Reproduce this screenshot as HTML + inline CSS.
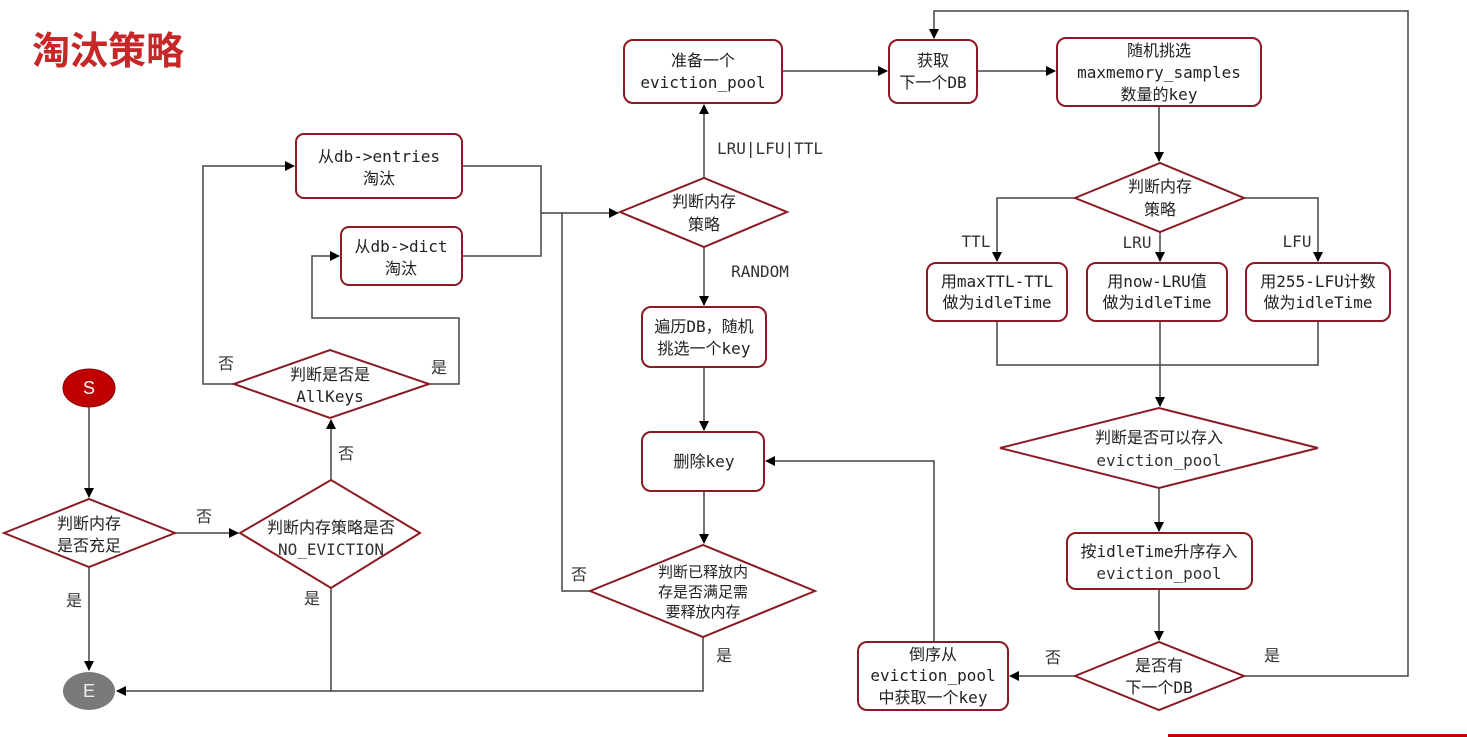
<!DOCTYPE html>
<html><head><meta charset="utf-8"><style>
html,body{margin:0;padding:0;background:#fff;}
svg{display:block;}
text{font-family:"DejaVu Sans Mono","Noto Sans CJK SC",monospace;font-size:16px;fill:#222;text-anchor:middle;}
.l{fill:#333;}
</style></head><body>
<svg width="1467" height="737" viewBox="0 0 1467 737" xmlns="http://www.w3.org/2000/svg">
<defs><marker id="a" markerWidth="10" markerHeight="10" refX="9" refY="5" orient="auto" markerUnits="userSpaceOnUse"><path d="M0,0 L10,5 L0,10 z" fill="#000"/></marker></defs>
<text x="32" y="64" style="font-family:'Liberation Sans','Noto Sans CJK SC',sans-serif;font-size:38px;font-weight:bold;fill:#c62828;text-anchor:start">淘汰策略</text>

<g fill="none" stroke="#444" stroke-width="1.5">
<path d="M89,407 V497" marker-end="url(#a)"/>
<path d="M89,567 V670" marker-end="url(#a)"/>
<path d="M175,533 H238" marker-end="url(#a)"/>
<path d="M331,480 V420" marker-end="url(#a)"/>
<path d="M331,588 V691"/>
<path d="M703,637 V691 H117" marker-end="url(#a)"/>
<path d="M234,384 H203 V166 H294" marker-end="url(#a)"/>
<path d="M429,384 H459 V318 H312 V256 H339" marker-end="url(#a)"/>
<path d="M462,166 H541 V256 H462"/>
<path d="M541,213 H618" marker-end="url(#a)"/>
<path d="M590,591 H562 V213"/>
<path d="M704,178 V105" marker-end="url(#a)"/>
<path d="M704,247 V305" marker-end="url(#a)"/>
<path d="M704,367 V430" marker-end="url(#a)"/>
<path d="M704,491 V543" marker-end="url(#a)"/>
<path d="M782,71 H887" marker-end="url(#a)"/>
<path d="M977,71 H1055" marker-end="url(#a)"/>
<path d="M1244,676 H1408 V11 H934 V38" marker-end="url(#a)"/>
<path d="M1159,106 V161" marker-end="url(#a)"/>
<path d="M1075,198 H997 V261" marker-end="url(#a)"/>
<path d="M1244,198 H1318 V261" marker-end="url(#a)"/>
<path d="M1160,232 V261" marker-end="url(#a)"/>
<path d="M997,321 V365 H1318 V321"/>
<path d="M1160,321 V406" marker-end="url(#a)"/>
<path d="M1159,488 V531" marker-end="url(#a)"/>
<path d="M1159,589 V640" marker-end="url(#a)"/>
<path d="M1075,676 H1010" marker-end="url(#a)"/>
<path d="M934,642 V461 H766" marker-end="url(#a)"/>
</g>

<ellipse cx="89" cy="388" rx="26" ry="19" fill="#c00000" stroke="#8b0000"/>
<text x="89" y="394" style="fill:#fff;font-family:'Liberation Sans',sans-serif;font-size:18px">S</text>
<ellipse cx="89" cy="691" rx="26" ry="19" fill="#7a7a7a"/>
<text x="89" y="697" style="fill:#eee;font-family:'Liberation Sans',sans-serif;font-size:18px">E</text>

<g fill="#fff" stroke="#8b1a24" stroke-width="2">
<polygon points="4,533 89,499 175,533 89,567"/>
<polygon points="240,533 331,480 420,533 331,588"/>
<polygon points="234,384 330,350 429,384 330,418"/>
<polygon points="620,212 704,178 787,212 704,247"/>
<polygon points="1075,198 1160,163 1244,198 1160,232"/>
<polygon points="1000,448 1159,408 1318,448 1159,488"/>
<polygon points="1075,676 1159,642 1244,676 1159,710"/>
<polygon points="590,591 703,545 815,591 703,637"/>
<rect x="296" y="134" width="166" height="64" rx="8"/>
<rect x="341" y="227" width="121" height="58" rx="8"/>
<rect x="624" y="40" width="158" height="63" rx="9"/>
<rect x="889" y="40" width="88" height="63" rx="9"/>
<rect x="1057" y="38" width="204" height="68" rx="9"/>
<rect x="927" y="263" width="140" height="58" rx="9"/>
<rect x="1087" y="263" width="140" height="58" rx="9"/>
<rect x="1246" y="263" width="144" height="58" rx="9"/>
<rect x="1067" y="533" width="185" height="56" rx="9"/>
<rect x="858" y="642" width="150" height="68" rx="9"/>
<rect x="642" y="307" width="124" height="60" rx="9"/>
<rect x="642" y="432" width="122" height="59" rx="9"/>
</g>

<text x="89" y="529">判断内存</text><text x="89" y="551">是否充足</text>
<text x="331" y="533">判断内存策略是否</text><text x="331" y="555" class="l">NO_EVICTION</text>
<text x="330" y="380">判断是否是</text><text x="330" y="402">AllKeys</text>
<text x="379" y="162">从db-&gt;entries</text><text x="379" y="184">淘汰</text>
<text x="401" y="252">从db-&gt;dict</text><text x="401" y="274">淘汰</text>
<text x="704" y="207">判断内存</text><text x="704" y="230">策略</text>
<text x="703" y="66">准备一个</text><text x="703" y="88">eviction_pool</text>
<text x="933" y="66">获取</text><text x="933" y="88">下一个DB</text>
<text x="1159" y="56">随机挑选</text><text x="1159" y="78">maxmemory_samples</text><text x="1159" y="100">数量的key</text>
<text x="1160" y="192">判断内存</text><text x="1160" y="215">策略</text>
<text x="997" y="287">用maxTTL-TTL</text><text x="997" y="308">做为idleTime</text>
<text x="1157" y="287">用now-LRU值</text><text x="1157" y="308">做为idleTime</text>
<text x="1318" y="287">用255-LFU计数</text><text x="1318" y="308">做为idleTime</text>
<text x="1159" y="443">判断是否可以存入</text><text x="1159" y="466" class="l">eviction_pool</text>
<text x="1159" y="557">按idleTime升序存入</text><text x="1159" y="579" class="l">eviction_pool</text>
<text x="1159" y="671">是否有</text><text x="1159" y="693">下一个DB</text>
<text x="933" y="660">倒序从</text><text x="933" y="681">eviction_pool</text><text x="933" y="703">中获取一个key</text>
<text x="704" y="332">遍历DB，随机</text><text x="704" y="354">挑选一个key</text>
<text x="704" y="467">删除key</text>
<text x="703" y="577" style="font-size:15px">判断已释放内</text><text x="703" y="597" style="font-size:15px">存是否满足需</text><text x="703" y="617" style="font-size:15px">要释放内存</text>

<g>
<text x="74" y="606" class="l">是</text>
<text x="204" y="522" class="l">否</text>
<text x="346" y="459" class="l">否</text>
<text x="312" y="604" class="l">是</text>
<text x="226" y="369" class="l">否</text>
<text x="439" y="373" class="l">是</text>
<text x="579" y="580" class="l">否</text>
<text x="724" y="661" class="l">是</text>
<text x="770" y="154" class="l">LRU|LFU|TTL</text>
<text x="760" y="277" class="l">RANDOM</text>
<text x="976" y="247" class="l">TTL</text>
<text x="1137" y="248" class="l">LRU</text>
<text x="1297" y="247" class="l">LFU</text>
<text x="1053" y="663" class="l">否</text>
<text x="1272" y="661" class="l">是</text>
</g>
<rect x="1168" y="734" width="299" height="3" fill="#c00000"/>
</svg>
</body></html>
